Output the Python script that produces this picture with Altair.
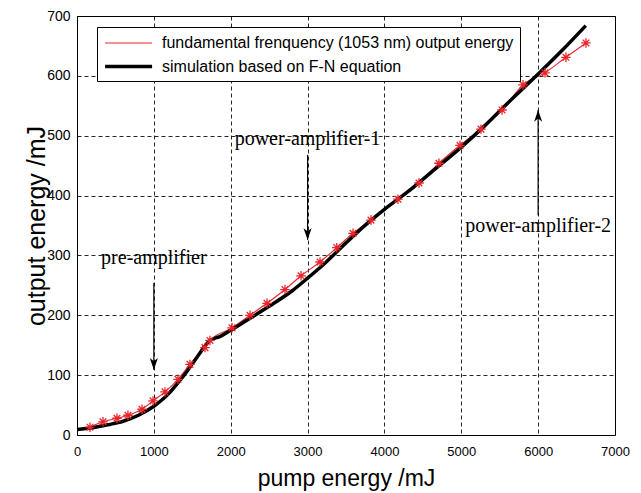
import altair as alt
import pandas as pd

# ---- data ----
meas_x = [169, 338, 520, 663, 846, 989, 1145, 1314, 1470, 1665, 1730, 2017, 2251, 2472,
          2706, 2915, 3162, 3380, 3591, 3825, 4176, 4450, 4710, 4983, 5256, 5530, 5803,
          6089, 6362, 6622]
meas_y = [13, 22, 28, 33, 43, 57, 72, 93, 118, 146, 158, 179, 200, 220,
          243, 266, 289, 313, 337, 359, 394, 421, 454, 484, 511, 543, 585,
          605, 631, 655]

sim_x = [0, 200, 400, 600, 800, 1000, 1100, 1200, 1300, 1400, 1500, 1600, 1660, 1720,
         1780, 1850, 2000, 2200, 2500, 2800, 3000, 3200, 3500, 3800, 4000, 4300, 4600,
         5000, 5300, 5600, 6000, 6300, 6620]
sim_y = [9, 12, 17, 23, 33, 48, 58, 70, 85, 101, 119, 137, 148, 157,
         161, 164, 175, 191, 215, 241, 262, 284, 321, 356, 377, 406, 438,
         481, 516, 554, 603, 641, 684]

series_names = ["fundamental frenquency (1053 nm) output energy",
                "simulation based on F-N equation"]
series_colors = ["#e8262a", "black"]
series_widths = [1.1, 3.5]

ann_text = ["pre-amplifier", "power-amplifier-1", "power-amplifier-2"]
ann_tx = [1000, 3000, 6000]
ann_ty = [286, 484, 339]
arrow_x = [1000, 3000, 6000]
arrow_from = [254, 468, 367]
arrow_tip = [109, 326, 543]
arrow_dir = ["down", "down", "up"]

x_ticks = list(range(0, 7001, 1000))
y_ticks = list(range(0, 701, 100))

# ---- tables ----
meas = pd.DataFrame({"x": meas_x, "y": meas_y, "series": series_names[0]})
sim = pd.DataFrame({"x": sim_x, "y": sim_y, "series": series_names[1]})
lines = pd.concat([meas, sim], ignore_index=True)
ann = pd.DataFrame({"text": ann_text, "x": ann_tx, "y": ann_ty})
arr = pd.DataFrame({"x": arrow_x, "y": arrow_from, "tip": arrow_tip, "dir": arrow_dir})

FONT = "Liberation Sans"
STAR = "M-1,0L1,0M0,-1L0,1M-0.7,-0.7L0.7,0.7M-0.7,0.7L0.7,-0.7"
HEAD_DOWN = "M0,0L-0.9,-2.6L0,-1.9L0.9,-2.6Z"
HEAD_UP = "M0,0L-0.9,2.6L0,1.9L0.9,2.6Z"

xscale = alt.Scale(domain=[0, 7000], nice=False, zero=False)
yscale = alt.Scale(domain=[0, 700], nice=False, zero=False)

xaxis = alt.Axis(values=x_ticks, format="d", grid=True, gridDash=[4, 3], gridColor="black",
                 gridOpacity=0.85, ticks=False, labelFont=FONT, labelFontSize=13,
                 labelColor="black", labelPadding=10, labelFlush=False, labelOverlap=False,
                 domainColor="black", title="pump energy /mJ", titleFont=FONT,
                 titleFontSize=23, titleFontWeight="normal", titleColor="black",
                 titleY=50, titleBaseline="alphabetic")
yaxis = alt.Axis(values=y_ticks, format="d", grid=True, gridDash=[4, 3], gridColor="black",
                 gridOpacity=0.85, ticks=False, labelFont=FONT, labelFontSize=14,
                 labelColor="black", labelPadding=7, labelFlush=False, labelOverlap=False,
                 domainColor="black", title="output energy /mJ", titleFont=FONT,
                 titleFontSize=25, titleFontWeight="normal", titleColor="black",
                 titleX=-33, titleY=209.5, titleAngle=270, titleBaseline="alphabetic",
                 titleAlign="center")

legend = alt.Legend(orient="none", legendX=20, legendY=11, title=None,
                    fillColor="white", strokeColor="black", padding=6,
                    labelFont=FONT, labelFontSize=16, labelColor="black",
                    labelLimit=0, symbolType="M-1,0L4,0", symbolSize=353,
                    labelOffset=36, rowPadding=4)

base_x = alt.X("x:Q", scale=xscale, axis=xaxis)
base_y = alt.Y("y:Q", scale=yscale, axis=yaxis)

line_layer = alt.Chart(lines).mark_line(interpolate="monotone").encode(
    x=base_x, y=base_y,
    color=alt.Color("series:N", scale=alt.Scale(domain=series_names, range=series_colors),
                    legend=legend),
    strokeWidth=alt.StrokeWidth("series:N",
                                scale=alt.Scale(domain=series_names, range=series_widths),
                                legend=legend),
    order=alt.Order("x:Q"),
)

star_layer = alt.Chart(meas).mark_point(shape=STAR, size=90, filled=False,
                                        color="#e8262a", strokeWidth=1.3, opacity=1).encode(
    x=alt.X("x:Q", scale=xscale), y=alt.Y("y:Q", scale=yscale))

rule_layer = alt.Chart(arr).mark_rule(color="black", strokeWidth=1.2).encode(
    x=alt.X("x:Q", scale=xscale), y=alt.Y("y:Q", scale=yscale), y2="tip:Q")

head_down = alt.Chart(arr).transform_filter(alt.datum.dir == "down").mark_point(
    shape=HEAD_DOWN, size=81, filled=True, color="black", opacity=1).encode(
    x=alt.X("x:Q", scale=xscale), y=alt.Y("tip:Q", scale=yscale))
head_up = alt.Chart(arr).transform_filter(alt.datum.dir == "up").mark_point(
    shape=HEAD_UP, size=81, filled=True, color="black", opacity=1).encode(
    x=alt.X("x:Q", scale=xscale), y=alt.Y("tip:Q", scale=yscale))

text_layer = alt.Chart(ann).mark_text(font="Liberation Serif", fontSize=20, color="black",
                                      align="center", baseline="alphabetic").encode(
    x=alt.X("x:Q", scale=xscale), y=alt.Y("y:Q", scale=yscale), text="text:N")

chart = alt.layer(line_layer, star_layer, rule_layer, head_down, head_up, text_layer).properties(
    width=538, height=419,
    autosize=alt.AutoSizeParams(type="none"),
    padding={"left": 69, "top": 8, "right": 18, "bottom": 58},
    background="white",
).configure_view(stroke="black", strokeWidth=1)

chart.save("out.html", embed_options={"renderer": "svg", "actions": False})
